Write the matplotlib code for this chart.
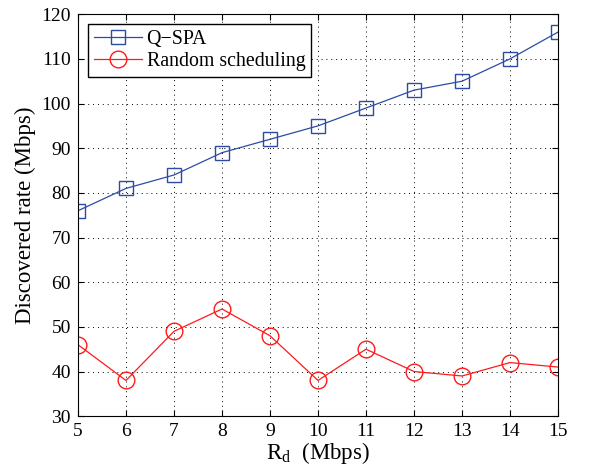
import numpy as np
import matplotlib.pyplot as plt

plt.rcParams['font.family'] = ['Liberation Serif', 'DejaVu Serif']

rd = [5, 6, 7, 8, 9, 10, 11, 12, 13, 14, 15]
qspa = [76, 81, 84, 89, 92, 95, 99, 103, 105, 110, 116]
random_sched = [46, 38, 49, 54, 48, 38, 45, 40, 39, 42, 41]

fig = plt.figure(figsize=(6, 4.74), dpi=100)
ax = fig.add_axes([0.13, 0.122, 0.80, 0.848])

ax.plot(rd, qspa, '-s', color='#2b4ba8', lw=0.9, ms=10, mfc='none', mew=1.0, label='Q\u2212SPA')
ax.plot(rd, random_sched, '-o', color='#ff1a1a', lw=0.9, ms=12, mfc='none', mew=1.0, label='Random scheduling')

ax.set_xlim(5, 15)
ax.set_ylim(30, 120)
ax.set_xticks(rd)
ax.set_yticks(np.arange(30, 121, 10))
ax.tick_params(direction='in', top=True, right=True, labelsize=14, length=4, pad=5)
ax.grid(True, linestyle=(0, (1, 4)), color='black', lw=0.7)
for s in ax.spines.values():
    s.set_linewidth(0.8)

ax.set_xlabel('R$_\\mathregular{d}$  (Mbps)', fontsize=16.5, labelpad=0)
ax.set_ylabel('Discovered rate (Mbps)', fontsize=16.5, labelpad=4)

leg = ax.legend(loc='upper left', fontsize=14.3, fancybox=False, edgecolor='black',
                handlelength=2.4, handletextpad=0.25, borderpad=0.3, labelspacing=0.15,
                framealpha=1, borderaxespad=0.5)
leg.get_frame().set_linewidth(1.0)

fig.savefig('out.png', dpi=100)
